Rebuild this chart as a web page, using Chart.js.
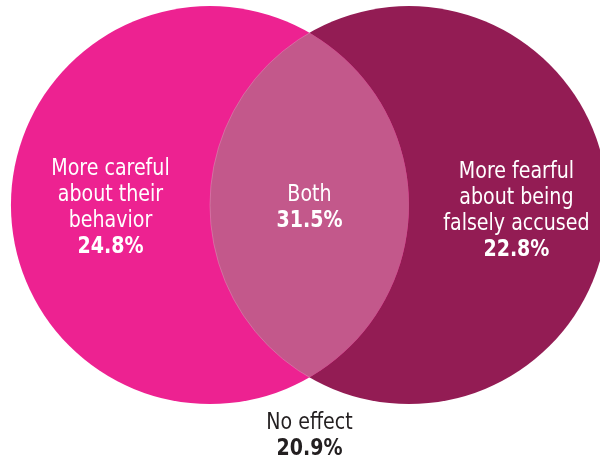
<!DOCTYPE html>
<html>
<head>
<meta charset="utf-8">
<script src="https://cdn.jsdelivr.net/npm/chart.js@4/dist/chart.umd.min.js"></script>
<style>
  html, body { margin: 0; padding: 0; background: #fff; }
  #wrap { width: 600px; height: 466px; }
</style>
</head>
<body>
<div id="wrap"><canvas id="venn"></canvas></div>
<script>
// data
const groupNames = [
  ['More careful', 'about their', 'behavior'],
  ['Both'],
  ['More fearful', 'about being', 'falsely accused'],
  ['No effect']
];
const groupShares = [24.8, 31.5, 22.8, 20.9];

// layout of the venn (unit = circle radius)
const circleCentres = [{ x: -0.5, y: 0 }, { x: 0.5, y: 0 }];
const labelSpots = [{ x: -1.0, y: 0 }, { x: 0, y: 0 }, { x: 1.04, y: -0.015 }, { x: 0, y: -1.148 }];

const colLeft = '#ED2291';
const colRight = '#931C54';
const colBoth = '#C3588B';
const fontFam = '"DejaVu Sans Condensed", "DejaVu Sans", sans-serif';

// radius in pixels = one unit on the x scale
function unitPx(chart) {
  const x = chart.scales.x;
  if (!x) return 0;
  return Math.abs(x.getPixelForValue(1) - x.getPixelForValue(0));
}

// paint the overlap (clip to left circle, fill right circle)
const overlapPlugin = {
  id: 'overlap',
  afterDatasetsDraw(chart) {
    const a = chart.getDatasetMeta(0).data[0];
    const b = chart.getDatasetMeta(1).data[0];
    const r = unitPx(chart);
    const ctx = chart.ctx;
    ctx.save();
    ctx.beginPath();
    ctx.arc(a.x, a.y, r, 0, Math.PI * 2);
    ctx.clip();
    ctx.beginPath();
    ctx.arc(b.x, b.y, r, 0, Math.PI * 2);
    ctx.fillStyle = colBoth;
    ctx.fill();
    ctx.strokeStyle = 'rgba(255,255,255,0.2)';
    ctx.lineWidth = 1;
    ctx.stroke();
    ctx.restore();
  }
};

// text labels (squeezed a bit, the original face is narrow)
const labelPlugin = {
  id: 'vennLabels',
  afterDraw(chart) {
    const ctx = chart.ctx;
    const xs = chart.scales.x, ys = chart.scales.y;
    const lh = 26;
    ctx.save();
    ctx.textAlign = 'center';
    ctx.textBaseline = 'alphabetic';
    groupNames.forEach((lines, i) => {
      const all = lines.concat([groupShares[i].toFixed(1) + '%']);
      const cx = xs.getPixelForValue(labelSpots[i].x);
      const cy = ys.getPixelForValue(labelSpots[i].y);
      let y = cy - all.length * lh / 2 + lh / 2 + 8.5;
      ctx.fillStyle = i === 3 ? '#231F20' : '#ffffff';
      all.forEach((t, j) => {
        const bold = j === all.length - 1;
        ctx.font = (bold ? 'bold ' : '') + '23px ' + fontFam;
        ctx.save();
        ctx.translate(cx, y);
        ctx.scale(0.92, 1);
        ctx.fillText(t, 0, 0);
        ctx.restore();
        y += lh;
      });
    });
    ctx.restore();
  }
};

new Chart(document.getElementById('venn'), {
  type: 'scatter',
  data: {
    datasets: [
      { label: 'left', data: [circleCentres[0]], backgroundColor: colLeft },
      { label: 'right', data: [circleCentres[1]], backgroundColor: colRight }
    ]
  },
  options: {
    responsive: true,
    maintainAspectRatio: false,
    animation: false,
    layout: { padding: 0 },
    datasets: { scatter: { clip: false } },
    elements: {
      point: {
        radius: (c) => unitPx(c.chart),
        hoverRadius: (c) => unitPx(c.chart),
        borderWidth: 0,
        hoverBorderWidth: 0
      }
    },
    scales: {
      x: { type: 'linear', min: -1.555, max: 1.46, display: false },
      y: { type: 'linear', min: -1.31, max: 1.03, display: false }
    },
    events: [],
    plugins: {
      legend: { display: false },
      tooltip: { enabled: false }
    }
  },
  plugins: [overlapPlugin, labelPlugin]
});
</script>
</body>
</html>
